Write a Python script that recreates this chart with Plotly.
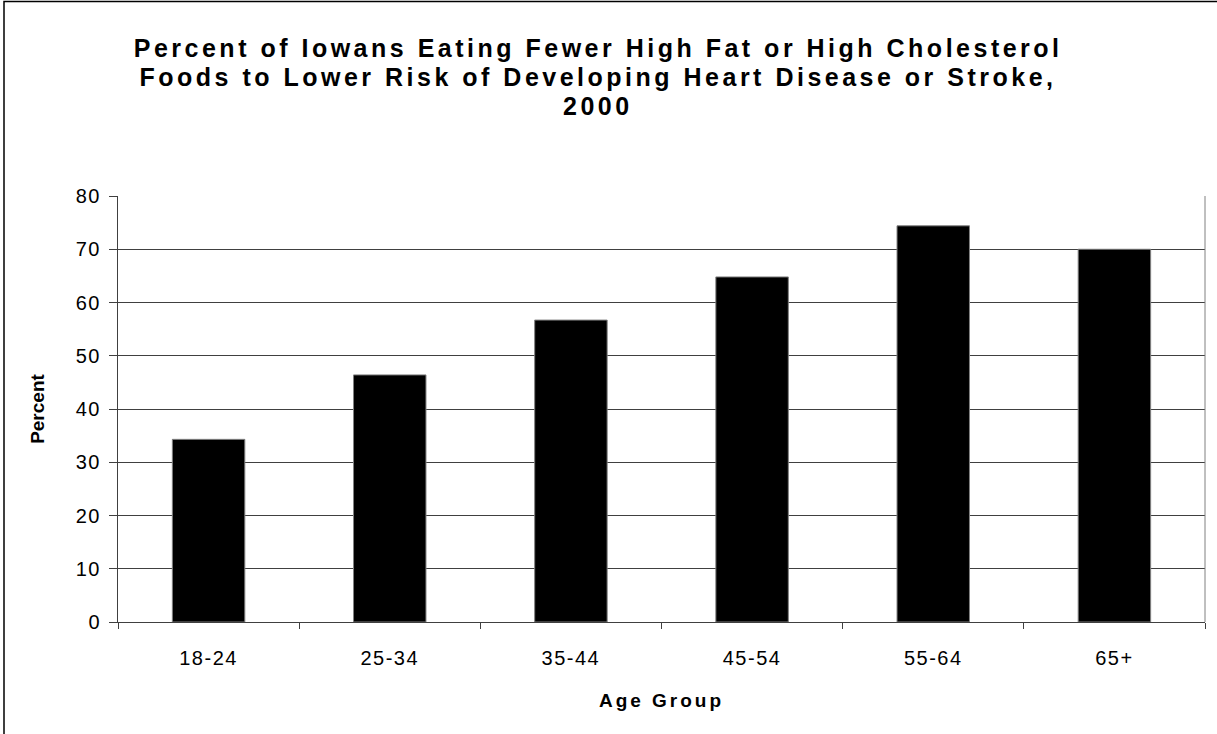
import plotly.graph_objects as go

# Survey results by age group
age_groups = ["18-24", "25-34", "35-44", "45-54", "55-64", "65+"]
percent = [34.3, 46.4, 56.7, 64.8, 74.4, 70.0]
y_ticks = [0, 10, 20, 30, 40, 50, 60, 70, 80]

title_lines = [
    "Percent of Iowans Eating Fewer High Fat or High Cholesterol",
    "Foods to Lower Risk of Developing Heart Disease or Stroke,",
    "2000",
]

W, H = 1217, 734
L, R, T, B = 118, 12, 196, 112
pw, ph = W - L - R, H - T - B

def px_x(px):
    return (px - L) / pw

def px_y(py):
    return (H - B - py) / ph

FONT = "Liberation Sans, Arial, sans-serif"

fig = go.Figure()
fig.add_trace(go.Bar(
    x=age_groups,
    y=percent,
    marker=dict(color="#000000", line=dict(color="#808080", width=1)),
    width=0.4,
    hoverinfo="x+y",
))

# chart title, one annotation per line for tight line spacing
title_annotations = [
    dict(text=line, xref="paper", yref="paper",
         x=px_x(598), y=px_y(48 + 29 * i), xanchor="center", yanchor="middle",
         showarrow=False, font=dict(family=FONT, size=25, color="#000000", weight="bold"))
    for i, line in enumerate(title_lines)
]

fig.update_layout(
    width=W,
    height=H,
    margin=dict(l=L, r=R, t=T, b=B),
    paper_bgcolor="white",
    plot_bgcolor="white",
    showlegend=False,
    font=dict(family=FONT, color="#000000", size=20),
    annotations=title_annotations,
    xaxis=dict(
        type="category",
        showline=True, linecolor="#404040", linewidth=1,
        ticks="outside", tickson="boundaries", ticklen=6, tickcolor="#404040",
        showgrid=False,
        tickfont=dict(size=20),
        ticklabelstandoff=18,
        title=dict(text="Age Group", font=dict(size=19, weight="bold"), standoff=25),
    ),
    yaxis=dict(
        range=[0, 80],
        tickvals=y_ticks,
        showline=True, linecolor="#404040", linewidth=1,
        ticks="outside", ticklen=8, tickcolor="#404040",
        showgrid=True, gridcolor="#404040", gridwidth=1,
        zeroline=False,
        tickfont=dict(size=20),
        ticklabelstandoff=4,
        title=dict(text="Percent", font=dict(size=19, weight="bold"), standoff=29),
    ),
    shapes=[
        # right edge of the plotting area
        dict(type="line", xref="paper", yref="paper", x0=1, x1=1, y0=0, y1=1,
             line=dict(color="#808080", width=1)),
        # outer chart frame
        dict(type="rect", xref="paper", yref="paper",
             x0=px_x(4), x1=px_x(W + 20), y0=px_y(H + 20), y1=px_y(1.5),
             line=dict(color="#000000", width=1.5), fillcolor="rgba(0,0,0,0)", layer="below"),
    ],
)

spacing_css = (
    "var s=document.createElement('style');"
    "s.textContent='.annotation-text{letter-spacing:3.5px}"
    ".xtitle{letter-spacing:3px}"
    ".xtick text,.ytick text{letter-spacing:1.5px}';"
    "document.head.appendChild(s);"
)

fig.write_html("out.html", post_script=spacing_css)
